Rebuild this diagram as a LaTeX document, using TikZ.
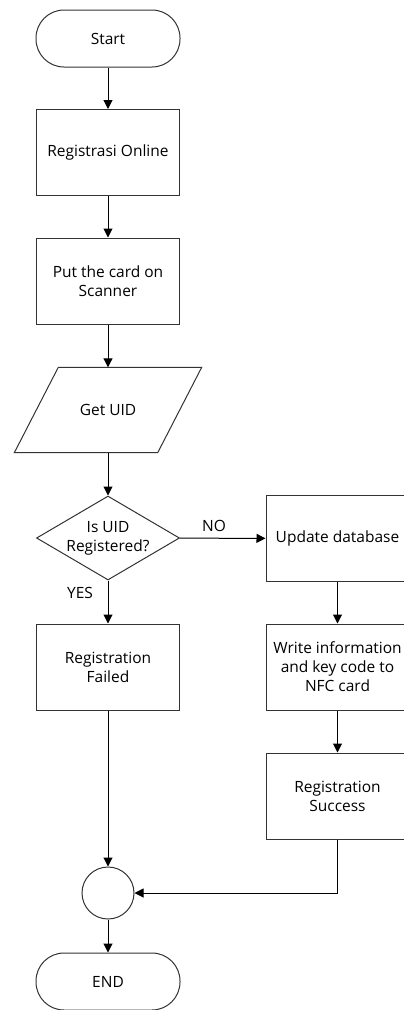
\documentclass[tikz,border=0pt]{standalone}
\usepackage{fontspec}
\setmainfont{Open Sans}
\usetikzlibrary{shapes.geometric,arrows.meta}

\tikzset{
  terminal/.style={draw=black!80, line width=1pt, rounded corners=28pt, minimum width=144pt, minimum height=57pt},
  process/.style={draw=black!80, line width=1pt, minimum width=143pt, minimum height=86pt, align=center},
  iobox/.style={minimum width=143pt, minimum height=85pt, inner sep=0pt},
  decision/.style={draw=black!80, line width=1pt, diamond, minimum width=143pt, minimum height=84pt, inner sep=0pt},
  joint/.style={draw=black!80, line width=1pt, circle, minimum size=52pt},
  outline/.style={draw=black!80, line width=1pt},
  flow/.style={draw=black, line width=1pt, -{Triangle[width=9pt,length=9pt]}},
}

\begin{document}
\begin{tikzpicture}[x=1pt, y=-1pt, font=\fontsize{15.5}{19}\selectfont]
  \useasboundingbox (0,0) rectangle (404,1010);
  \begin{scope}
  \clip (0,0) rectangle (404,1010);
  % left column
  \node[terminal] (start) at (108,38.5) {Start};
  \node[process] (regonline) at (108,152.5) {Registrasi Online};
  \node[process] (scan) at (108,281) {Put the card on\\Scanner};
  \node[iobox] (getuid) at (108,410) {Get UID};
  \draw[outline] ([xshift=22pt]getuid.north west) -- ([xshift=22pt]getuid.north east)
    -- ([xshift=-22pt]getuid.south east) -- ([xshift=-22pt]getuid.south west) -- cycle;
  \node[decision, label={[align=center]center:Is UID\\Registered?}] (check) at (108,538) {};
  \node[process] (failed) at (108,667) {Registration\\Failed};
  \node[joint] (merge) at (108,893) {};
  \node[terminal] (finish) at (108,981.5) {END};
  % right column
  \node[process] (update) at (337.5,538.5) {Update database};
  \node[process] (write) at (337.5,667) {Write information\\and key code to\\NFC card};
  \node[process] (success) at (337.5,796) {Registration\\Success};

  % labels
  \node (nolabel) at (214,526) {NO};
  \node (yeslabel) at (80,593) {YES};

  % connectors
  \draw[flow] (start) -- (regonline);
  \draw[flow] (regonline) -- (scan);
  \draw[flow] (scan) -- (getuid);
  \draw[flow] (getuid) -- (check);
  \draw[flow] (check) -- (failed);
  \draw[flow] (check) -- (update);
  \draw[flow] (update) -- (write);
  \draw[flow] (write) -- (success);
  \draw[flow] (failed) -- (merge);
  \draw[flow] (success) |- (merge);
  \draw[flow] (merge) -- (finish);
  \end{scope}
\end{tikzpicture}
\end{document}
